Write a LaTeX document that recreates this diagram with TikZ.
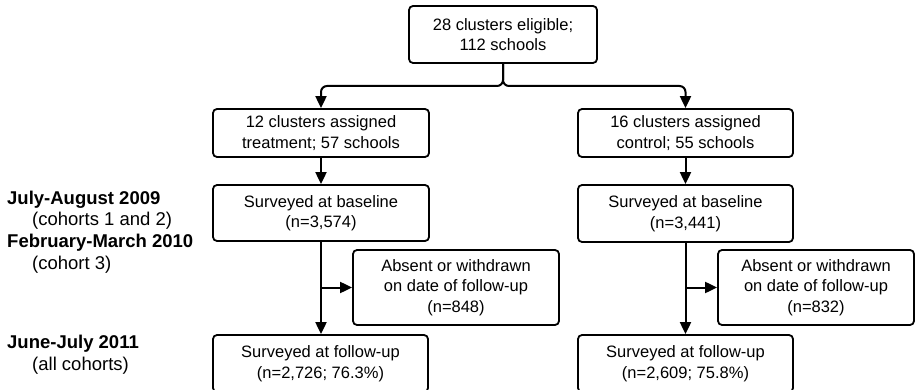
\documentclass[tikz,border=0pt]{standalone}
\usepackage{fontspec}
\setmainfont{Liberation Sans}
\usetikzlibrary{arrows.meta}

\tikzset{
  box/.style={draw, line width=1.8pt, rounded corners=4pt, align=center, inner sep=0pt,
    font=\fontsize{16.5}{20.5}\selectfont},
  flow/.style={line width=2pt, -{Triangle[length=12pt,width=11pt]}},
  period/.style={anchor=west, inner sep=0pt, font=\fontsize{18.5}{22}\selectfont\bfseries},
  cohort/.style={anchor=west, inner sep=0pt, font=\fontsize{18.5}{22}\selectfont},
}

\begin{document}
\begin{tikzpicture}[x=1pt, y=-1pt]
            \useasboundingbox (0,0) rectangle (916,390);
            % boxes
            \node[box, minimum width=188pt, minimum height=57pt] (elig) at (503,34.5) {28 clusters eligible;\\112 schools};
            \node[box, minimum width=216pt, minimum height=48pt] (treat) at (321,133) {12 clusters assigned\\treatment; 57 schools};
            \node[box, minimum width=215pt, minimum height=48pt] (ctrl) at (685.5,133) {16 clusters assigned\\control; 55 schools};
            \node[box, minimum width=216pt, minimum height=56pt] (tbase) at (321,213) {Surveyed at baseline\\(n=3,574)};
            \node[box, minimum width=215pt, minimum height=57pt] (cbase) at (685.5,213.5) {Surveyed at baseline\\(n=3,441)};
            \node[box, minimum width=206pt, minimum height=75pt] (tabsent) at (456,287.5) {Absent or withdrawn\\on date of follow-up\\(n=848)};
            \node[box, minimum width=196pt, minimum height=75pt] (cabsent) at (816,287.5) {Absent or withdrawn\\on date of follow-up\\(n=832)};
            \node[box, minimum width=215pt, minimum height=57pt] (tfollow) at (320.5,363.5) {Surveyed at follow-up\\(n=2,726; 76.3\%)};
            \node[box, minimum width=215pt, minimum height=57pt] (cfollow) at (685.5,363.5) {Surveyed at follow-up\\(n=2,609; 75.8\%)};
            % time labels
            \node[period] (p1) at (7,200) {July-August 2009};
            \node[cohort] (c1) at (32,221) {(cohorts 1 and 2)};
            \node[period] (p2) at (7,243) {February-March 2010};
            \node[cohort] (c2) at (32,265) {(cohort 3)};
            \node[period] (p3) at (7,344) {June-July 2011};
            \node[cohort] (c3) at (32,366) {(all cohorts)};
            % connectors
            \coordinate (split) at (503,86);
            \coordinate (tbranch) at (321,287.5);
            \coordinate (cbranch) at (685.5,287.5);
            \draw[flow, rounded corners=6pt] (elig.south) -- (split) -| (treat.north);
            \draw[flow, rounded corners=6pt] (elig.south) -- (split) -| (ctrl.north);
            \draw[flow] (treat) -- (tbase);
            \draw[flow] (ctrl) -- (cbase);
            \draw[flow] (tbase) -- (tbase |- tfollow.north);
            \draw[flow] (cbase) -- (cfollow);
            \draw[flow] (tbranch) -- (tabsent.west);
            \draw[flow] (cbranch) -- (cabsent.west);
        \end{tikzpicture}
\end{document}
